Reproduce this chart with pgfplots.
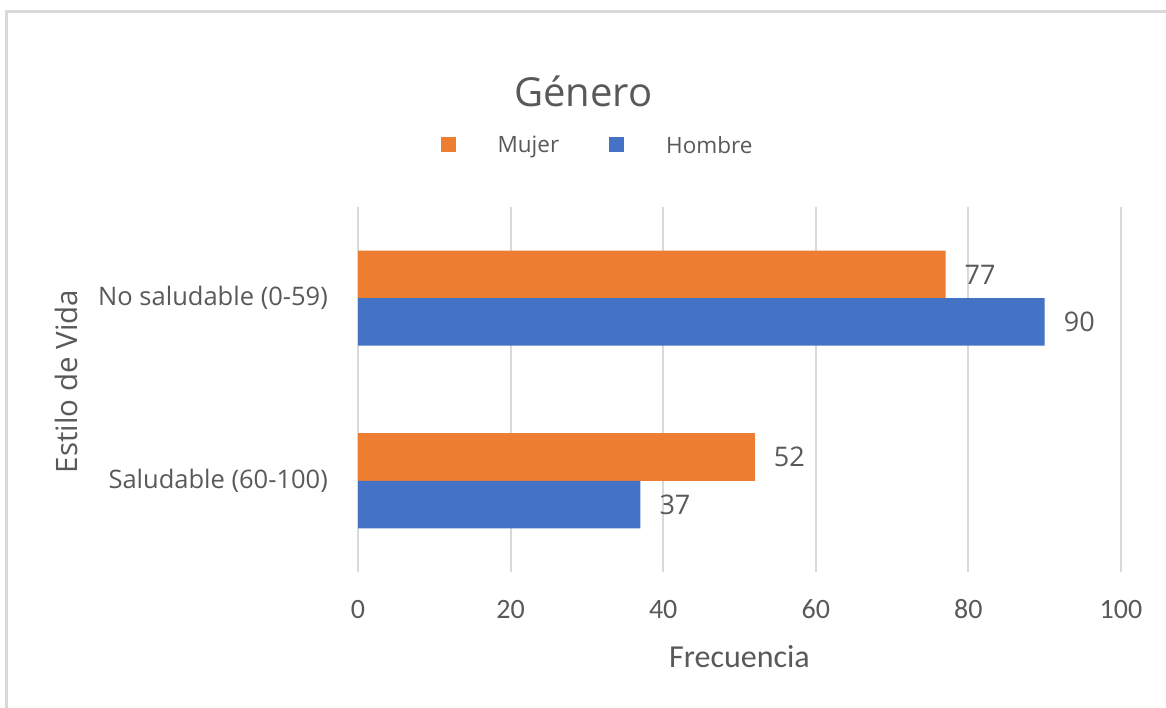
\documentclass[border=0pt]{standalone}
\usepackage{pgfplots}
\pgfplotsset{compat=1.18}
\usepackage{fontspec}
\setmainfont{Open Sans}
\newfontfamily\carlito{Carlito}
\definecolor{orng}{HTML}{ED7D31}
\definecolor{blu}{HTML}{4472C4}
\definecolor{txt}{HTML}{595959}
\definecolor{grd}{HTML}{D9D9D9}
\begin{document}
\begin{tikzpicture}[x=1pt,y=1pt]
\useasboundingbox (0,0) rectangle (1166,707);
\clip (0,0) rectangle (1166,707);
\draw[grd, line width=3pt] (6.5,695.5) rectangle (1190,-20);
\begin{axis}[
 at={(358pt,135pt)}, anchor=south west, scale only axis,
 width=763pt, height=365pt,
 xmin=0, xmax=100, ymin=-0.5, ymax=1.5,
 xbar, bar width=47.5pt,
 xtick={0,20,...,100}, ytick={0,1},
 yticklabels={Saludable (60-100), No saludable (0-59)},
 xmajorgrids, grid style={grd, line width=2pt},
 axis line style={draw=none}, major tick length=0pt,
 /pgf/number format/assume math mode=true,
 xticklabel style={font=\carlito\fontsize{28}{28}\selectfont, text=txt, anchor=base, yshift=-46pt, inner sep=0pt},
 yticklabel style={font=\fontsize{25.5}{25.5}\selectfont, text=txt, anchor=east, xshift=-30pt, inner sep=0pt},
 xlabel={Frecuencia},
 xlabel style={font=\carlito\fontsize{32}{32}\selectfont, text=txt, at={(axis description cs:0.5,0)}, anchor=base, yshift=-95pt, inner sep=0pt},
 ylabel={Estilo de Vida},
 ylabel style={font=\fontsize{29.5}{29.5}\selectfont, text=txt, at={(axis description cs:-0.367,0.522)}, anchor=base, inner sep=0pt},
 nodes near coords,
 nodes near coords style={font=\fontsize{27}{27}\selectfont, text=txt, anchor=west, inner sep=0pt, xshift=19pt},
 legend columns=2,
 legend cell align=left,
 legend style={at={(axis description cs:0.104,1.169)}, anchor=west, draw=none, fill=none,
   font=\fontsize{22.5}{22.5}\selectfont, text=txt, nodes={inner sep=0pt},
   /tikz/every odd column/.append style={column sep=42pt},
   /tikz/every even column/.append style={column sep=50pt}},
 legend image code/.code={\fill[#1,draw=none] (0pt,-7pt) rectangle (15pt,8pt);},
]
\addplot[fill=orng, draw=none, bar shift=23.75pt] coordinates {(52,0) (77,1)};
\addlegendentry{Mujer}
\addplot[fill=blu, draw=none, bar shift=-23.75pt] coordinates {(37,0) (90,1)};
\addlegendentry{Hombre}
\end{axis}
\node[font=\fontsize{40}{40}\selectfont, text=txt, anchor=base] at (583.5,600) {Género};
\end{tikzpicture}
\end{document}
